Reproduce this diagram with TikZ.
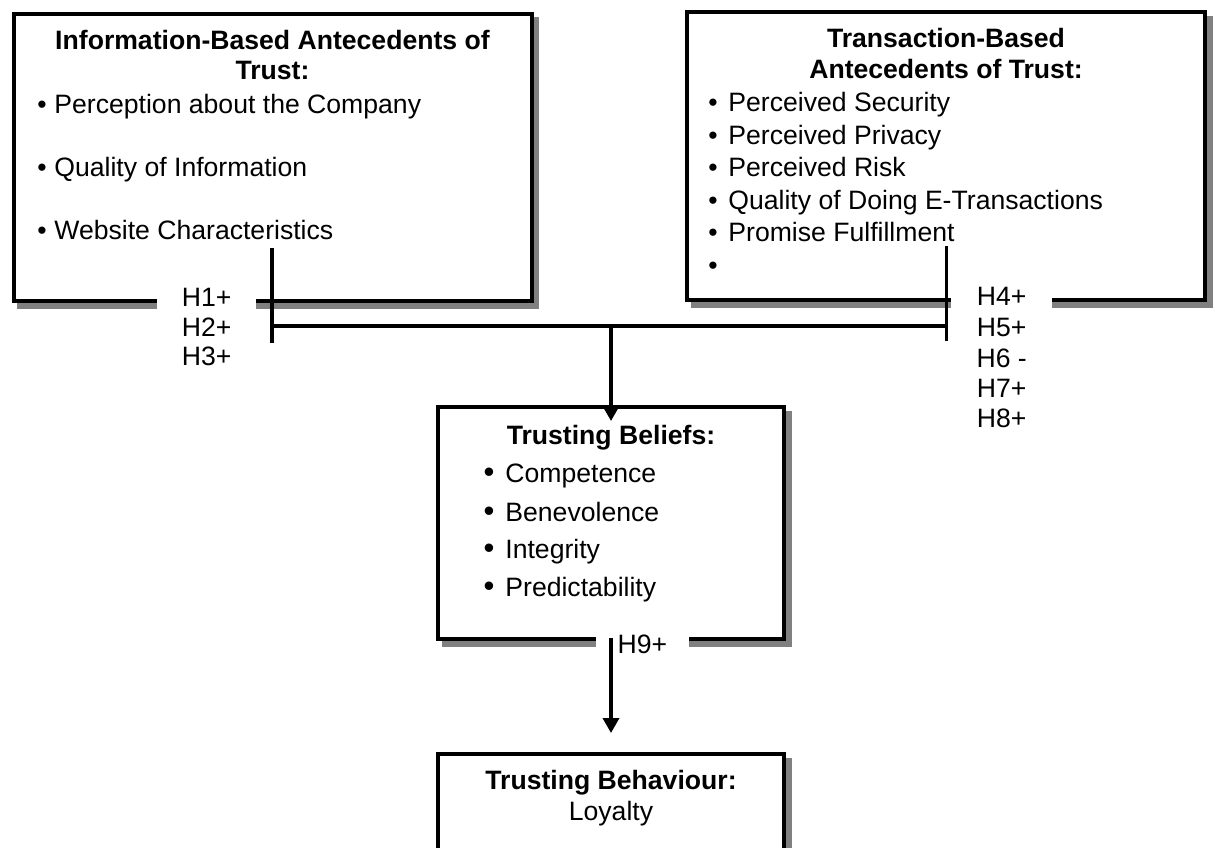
\documentclass[tikz,border=0pt]{standalone}
\usepackage{fontspec}
\setmainfont{Liberation Sans}
\usetikzlibrary{arrows.meta,backgrounds}
\definecolor{shadowgray}{RGB}{128,128,128}
\begin{document}
\begin{tikzpicture}[x=0.5pt,y=-0.5pt,
  box/.style={draw=black, line width=2pt, fill=white, rectangle, inner sep=0pt, outer sep=1pt},
  tx/.style={font=\fontsize{13.3pt}{16pt}\selectfont, inner sep=0pt, anchor=base},
  txl/.style={tx, anchor=base west},
  ttl/.style={tx, font=\fontsize{13.3pt}{16pt}\selectfont\bfseries},
  bul/.style={tx},
  bigbul/.style={tx, font=\fontsize{15.5pt}{16pt}\selectfont},
  cover/.style={fill=white, inner xsep=0pt, inner ysep=3pt},
  link/.style={line width=1.75pt, draw=black},
  arr/.style={link, -{Triangle[width=8pt,length=7.5pt]}},
]
\useasboundingbox (0,0) rectangle (1216,847);
\clip (0,0) rectangle (1216,847);

% boxes
\node[box, minimum width=259pt, minimum height=143.75pt] (A) at (272.5,157.25) {};
\node[box, minimum width=259pt, minimum height=144pt] (B) at (946,156) {};
\node[box, minimum width=173pt, minimum height=116pt] (C) at (611,523) {};
\node[box, minimum width=173pt, minimum height=98pt] (D) at (611,852) {};

\begin{scope}[on background layer]
\foreach \n in {A,B,C,D}
  \fill[shadowgray] ([shift={(5.5,5.5)}]\n.north west) rectangle ([shift={(5.5,5.5)}]\n.south east);
\end{scope}

% box A text
\node[ttl] (At1) at (272.5,49) {Information-Based Antecedents of};
\node[ttl] (At2) at (272.5,79) {Trust:};
\node[bul] (Ab1) at (42,113) {•};
\node[txl] (Ai1) at (54,113) {Perception about the Company};
\node[bul] (Ab2) at (42,176) {•};
\node[txl] (Ai2) at (54,176) {Quality of Information};
\node[bul] (Ab3) at (42,239) {•};
\node[txl] (Ai3) at (54,239) {Website Characteristics};

% box B text
\node[ttl] (Bt1) at (946,47) {Transaction-Based};
\node[ttl] (Bt2) at (946,78) {Antecedents of Trust:};
\node[bul] (Bb1) at (713,111) {•};
\node[txl] (Bi1) at (728,111) {Perceived Security};
\node[bul] (Bb2) at (713,144) {•};
\node[txl] (Bi2) at (728,144) {Perceived Privacy};
\node[bul] (Bb3) at (713,176) {•};
\node[txl] (Bi3) at (728,176) {Perceived Risk};
\node[bul] (Bb4) at (713,209) {•};
\node[txl] (Bi4) at (728,209) {Quality of Doing E-Transactions};
\node[bul] (Bb5) at (713,241) {•};
\node[txl] (Bi5) at (728,241) {Promise Fulfillment};
\node[bul] (Bb6) at (713,274) {•};

% box C text
\node[ttl] (Ct) at (611,444) {Trusting Beliefs:};
\node[bigbul] (Cb1) at (489,482) {•};
\node[txl] (Ci1) at (505,482) {Competence};
\node[bigbul] (Cb2) at (489,521) {•};
\node[txl] (Ci2) at (505,521) {Benevolence};
\node[bigbul] (Cb3) at (489,558) {•};
\node[txl] (Ci3) at (505,558) {Integrity};
\node[bigbul] (Cb4) at (489,596) {•};
\node[txl] (Ci4) at (505,596) {Predictability};

% box D text
\node[ttl] (Dt) at (611,789) {Trusting Behaviour:};
\node[tx] (Di) at (611,820) {Loyalty};

% hypothesis labels
\node[tx, cover, minimum width=49.5pt] (h1) at (206.7,306) {H1+};
\node[tx] (h2) at (206.7,336) {H2+};
\node[tx] (h3) at (206.7,365) {H3+};
\node[tx, cover, minimum width=50.5pt] (h4) at (1001.7,305) {H4+};
\node[tx] (h5) at (1001.7,336) {H5+};
\node[tx] (h6) at (1001.7,367) {H6 -};
\node[tx] (h7) at (1001.7,397) {H7+};
\node[tx] (h8) at (1001.7,427) {H8+};
\node[tx, cover, minimum width=46.5pt] (h9) at (642.5,653) {H9+};

% connectors
\coordinate (a1) at (272,248);
\coordinate (a2) at (272,343);
\coordinate (b1) at (946.5,246);
\coordinate (b2) at (946.5,341);
\coordinate (ah) at (272,326);
\coordinate (bh) at (946.5,326);
\coordinate (j) at (611,326);
\draw[link] (a1) -- (a2);
\draw[link] (b1) -- (b2);
\draw[link] (ah) -- (bh);
\draw[arr] (j) -- ([yshift=-8pt]C.north);
\draw[arr] ([yshift=1.5pt]C.south) -- ([yshift=9.5pt]D.north);
\end{tikzpicture}
\end{document}
